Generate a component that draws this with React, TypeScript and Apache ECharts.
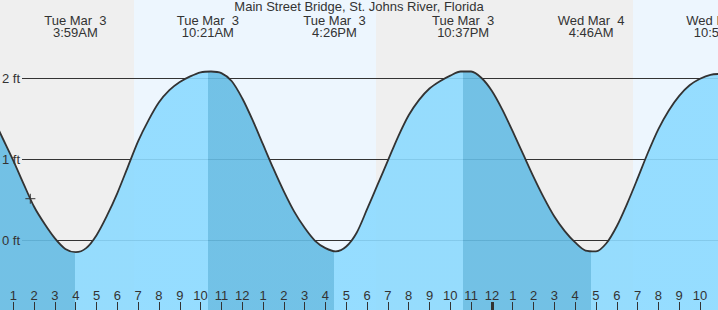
import React, { useEffect, useRef } from "react";
import * as echarts from "echarts";

// ---- data (hours since midnight, Tue Mar 3; half-hourly readings) ----
const tideHours = [0, 0.5, 1, 1.5, 2, 2.5, 3, 3.5, 4, 4.5, 5, 5.5, 6, 6.5, 7, 7.5, 8, 8.5, 9, 9.5, 10, 10.5, 11, 11.5, 12, 12.5, 13, 13.5, 14, 14.5, 15, 15.5, 16, 16.5, 17, 17.5, 18, 18.5, 19, 19.5, 20, 20.5, 21, 21.5, 22, 22.5, 23, 23.5, 24, 24.5, 25, 25.5, 26, 26.5, 27, 27.5, 28, 28.5, 29, 29.5, 30, 30.5, 31, 31.5, 32, 32.5, 33, 33.5, 34, 34.5, 35];
const tideFeet = [1.52, 1.25, 0.98, 0.69, 0.41, 0.20, 0.02, -0.11, -0.15, -0.10, 0.06, 0.30, 0.58, 0.90, 1.22, 1.48, 1.70, 1.85, 1.95, 2.02, 2.07, 2.08, 2.06, 1.96, 1.75, 1.48, 1.18, 0.88, 0.60, 0.35, 0.15, -0.01, -0.10, -0.14, -0.08, 0.09, 0.38, 0.68, 0.98, 1.28, 1.54, 1.73, 1.87, 1.96, 2.03, 2.08, 2.08, 2.00, 1.84, 1.61, 1.34, 1.06, 0.78, 0.52, 0.29, 0.11, -0.03, -0.13, -0.14, -0.04, 0.17, 0.45, 0.76, 1.08, 1.37, 1.60, 1.78, 1.91, 1.99, 2.04, 2.05];

const extremeHours = [3.983, 10.35, 16.433, 22.617, 28.767, 34.95];
const extremeTypes = ["L", "H", "L", "H", "L", "H"];
const extremeDays = ["Tue Mar  3", "Tue Mar  3", "Tue Mar  3", "Tue Mar  3", "Wed Mar  4", "Wed Mar  4"];
const extremeTimes = ["3:59AM", "10:21AM", "4:26PM", "10:37PM", "4:46AM", "10:57AM"];

const daylightStart = [6.8, 30.78];
const daylightEnd = [18.43, 36];

const ftLevels = [0, 1, 2];
const ftLabels = ["0 ft", "1 ft", "2 ft"];

const hourTicks = [1, 2, 3, 4, 5, 6, 7, 8, 9, 10, 11, 12, 13, 14, 15, 16, 17, 18, 19, 20, 21, 22, 23, 24, 25, 26, 27, 28, 29, 30, 31, 32, 33, 34, 35];
const hourLabels = ["1", "2", "3", "4", "5", "6", "7", "8", "9", "10", "11", "12", "1", "2", "3", "4", "5", "6", "7", "8", "9", "10", "11", "12", "1", "2", "3", "4", "5", "6", "7", "8", "9", "10", "11"];
const midnightTicks = [24];

const nowHour = 1.82;
const nowFeet = 0.51;

const title = "Main Street Bridge, St. Johns River, Florida";

// ---- view / style ----
const X_MIN = 0.3604;
const X_MAX = 34.864;
const Y_MIN = -0.8642;
const Y_MAX = 2.963;
const FONT = "'Liberation Sans', Arial, sans-serif";
const TEXT = "#333333";
const NIGHT = "#EFEFEF";
const DAY = "#EDF6FE";
const RISE = "#8CDAFF";
const FALL = "#65BCE4";
const GRID_START = 22;

export default function App() {
  const ref = useRef<HTMLDivElement>(null);
  useEffect(() => {
    if (!ref.current) return;
    const chart = echarts.init(ref.current, undefined, { renderer: "svg" });

    const pieces: any[] = [];
    let prev = -100;
    extremeHours.forEach((h, i) => {
      pieces.push({ gte: prev, lt: h, color: extremeTypes[i] === "L" ? FALL : RISE });
      prev = h;
    });
    pieces.push({ gte: prev, lt: 100, color: extremeTypes[extremeTypes.length - 1] === "H" ? FALL : RISE });

    const option: any = {
      animation: false,
      backgroundColor: NIGHT,
      grid: { left: 0, right: 0, top: 0, bottom: 0 },
      graphic: [
        {
          type: "text",
          left: "center",
          top: 0,
          z: 10,
          style: { text: title, font: `13px ${FONT}`, fill: TEXT },
        },
      ],
      xAxis: [
        {
          type: "value",
          min: X_MIN,
          max: X_MAX,
          position: "bottom",
          z: 5,
          splitLine: { show: false },
          axisLine: { show: false, onZero: false },
          axisTick: { show: true, inside: true, length: 8, customValues: hourTicks, lineStyle: { color: TEXT, width: 1 } },
          axisLabel: {
            show: true,
            inside: true,
            margin: 8,
            customValues: hourTicks,
            color: TEXT,
            fontSize: 13,
            fontFamily: FONT,
            formatter: (v: number) => {
              const i = hourTicks.indexOf(Math.round(v));
              return i >= 0 ? hourLabels[i] : "";
            },
          },
        },
        {
          type: "value",
          min: X_MIN,
          max: X_MAX,
          position: "bottom",
          z: 5,
          splitLine: { show: false },
          axisLine: { show: false, onZero: false },
          axisLabel: { show: false },
          axisTick: { show: true, inside: true, length: 8, customValues: midnightTicks, lineStyle: { color: TEXT, width: 3 } },
        },
      ],
      yAxis: { type: "value", min: Y_MIN, max: Y_MAX, show: false },
      visualMap: { type: "piecewise", show: false, dimension: 0, seriesIndex: 2, pieces },
      series: [
        {
          type: "custom",
          z: 0,
          silent: true,
          data: daylightStart.map((s, i) => [s, daylightEnd[i]]),
          renderItem: (_p: any, api: any) => {
            const x0 = api.coord([api.value(0), 0])[0];
            const x1 = api.coord([api.value(1), 0])[0];
            return { type: "rect", shape: { x: x0, y: 0, width: x1 - x0, height: api.getHeight() }, style: { fill: DAY } };
          },
        },
        {
          type: "custom",
          z: 1,
          silent: true,
          data: ftLevels.map((v) => [v]),
          renderItem: (_p: any, api: any) => {
            const y = Math.round(api.coord([X_MIN, api.value(0)])[1]) + 0.5;
            return {
              type: "line",
              shape: { x1: GRID_START, y1: y, x2: api.getWidth(), y2: y },
              style: { stroke: TEXT, lineWidth: 1 },
            };
          },
        },
        {
          type: "line",
          z: 2,
          data: tideHours.map((h, i) => [h, tideFeet[i]]),
          smooth: 0.3,
          symbol: "none",
          showSymbol: false,
          clip: true,
          lineStyle: { color: TEXT, width: 1.8 },
          areaStyle: { origin: "start", opacity: 0.9 },
        },
        {
          type: "custom",
          z: 4,
          silent: true,
          data: ftLevels.map((v, i) => [v, i]),
          renderItem: (p: any, api: any) => {
            const y = api.coord([X_MIN, api.value(0)])[1];
            return {
              type: "text",
              x: 2,
              y: y,
              style: { text: ftLabels[p.dataIndex], font: `13px ${FONT}`, fill: TEXT, verticalAlign: "middle", align: "left" },
            };
          },
        },
        {
          type: "custom",
          z: 4,
          silent: true,
          data: extremeHours.map((h, i) => [h, i]),
          renderItem: (p: any, api: any) => {
            const x = api.coord([api.value(0), 0])[0];
            return {
              type: "group",
              children: [
                { type: "text", x, y: 20, style: { text: extremeDays[p.dataIndex], font: `13px ${FONT}`, fill: TEXT, align: "center", verticalAlign: "middle" } },
                { type: "text", x, y: 32, style: { text: extremeTimes[p.dataIndex], font: `13px ${FONT}`, fill: TEXT, align: "center", verticalAlign: "middle" } },
              ],
            };
          },
        },
        {
          type: "scatter",
          z: 5,
          silent: true,
          data: [[nowHour, nowFeet]],
          symbol: "path://M0,5L10,5M5,0L5,10",
          symbolSize: 10,
          itemStyle: { color: "none", borderColor: TEXT, borderWidth: 1.2 },
        },
      ],
    };
    chart.setOption(option);
    return () => chart.dispose();
  }, []);
  return <div ref={ref} style={{ position: "fixed", left: 0, top: 0, width: 718, height: 310 }} />;
}
